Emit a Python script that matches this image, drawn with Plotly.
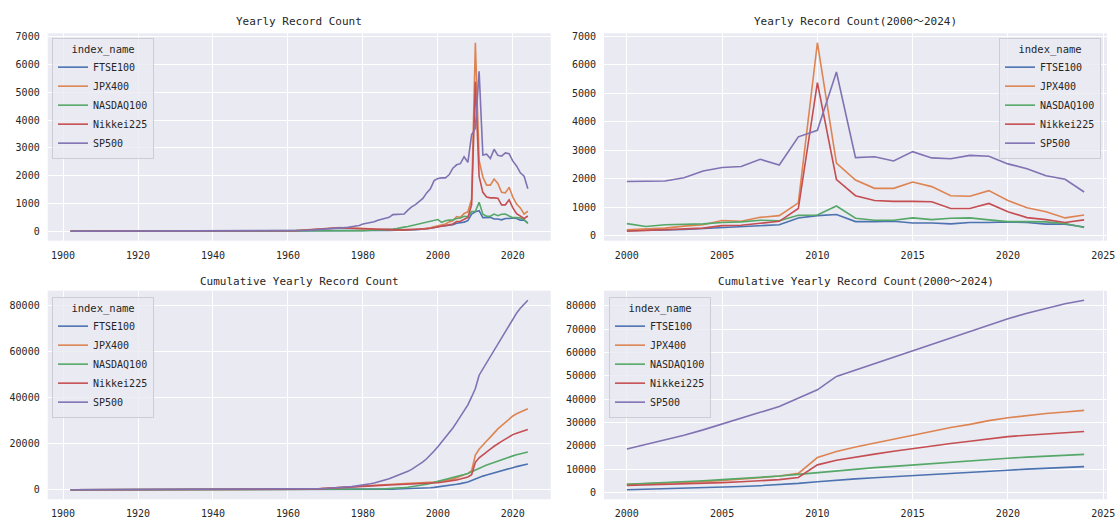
import numpy as np
import plotly.graph_objects as go

# ---------------- data ----------------
years = list(range(1902, 2025))
index_names = ["FTSE100", "JPX400", "NASDAQ100", "Nikkei225", "SP500"]

ftse100 = [
    0, 0, 0, 0, 0, 0, 0, 0,
    0, 0, 0, 0, 0, 0, 0, 0, 0, 0,
    0, 0, 0, 0, 0, 0, 0, 0, 0, 0,
    0, 0, 0, 0, 0, 0, 0, 0, 0, 0,
    0, 0, 0, 0, 0, 0, 0, 0, 0, 0,
    0, 0, 0, 0, 0, 0, 0, 0, 0, 0,
    1, 1, 2, 2, 3, 3, 4, 4, 5, 5,
    6, 6, 7, 7, 8, 8, 9, 9, 10, 10,
    15, 16, 18, 20, 22, 24, 26, 28, 30, 33,
    35, 40, 45, 50, 60, 70, 80, 95, 110, 140,
    180, 200, 200, 210, 240, 290, 300, 330, 380, 620,
    700, 740, 490, 490, 500, 440, 440, 410, 460, 460,
    480, 460, 400, 400, 300,
]
jpx400 = [
    0, 0, 0, 0, 0, 0, 0, 0,
    0, 0, 0, 0, 0, 0, 0, 0, 0, 0,
    0, 0, 0, 0, 0, 0, 0, 0, 0, 0,
    0, 0, 0, 0, 0, 0, 0, 0, 0, 0,
    0, 0, 0, 0, 0, 0, 0, 0, 0, 0,
    0, 0, 0, 0, 0, 0, 0, 0, 0, 0,
    10, 15, 22, 32, 42, 58, 75, 90, 100, 110,
    120, 130, 138, 142, 135, 128, 125, 120, 115, 110,
    105, 95, 85, 75, 65, 60, 55, 55, 55, 55,
    55, 55, 60, 62, 68, 72, 85, 100, 125, 160,
    200, 230, 260, 330, 380, 530, 500, 640, 700, 1150,
    6780, 2550, 1950, 1660, 1660, 1880, 1720, 1400, 1380, 1580,
    1230, 980, 840, 620, 720,
]
nasdaq100 = [
    0, 0, 0, 0, 0, 0, 0, 0,
    0, 0, 0, 0, 0, 0, 0, 0, 0, 0,
    0, 0, 0, 0, 0, 0, 0, 0, 0, 0,
    0, 0, 0, 0, 0, 0, 0, 0, 0, 0,
    0, 0, 0, 0, 0, 0, 0, 0, 0, 0,
    0, 0, 0, 0, 0, 0, 0, 0, 0, 0,
    1, 1, 2, 2, 3, 3, 4, 5, 6, 7,
    8, 9, 10, 11, 12, 13, 14, 15, 16, 18,
    25, 28, 32, 36, 42, 48, 56, 65, 78, 95,
    130, 150, 170, 200, 230, 270, 300, 330, 360, 400,
    420, 320, 380, 400, 410, 460, 480, 540, 520, 710,
    720, 1040, 610, 540, 540, 620, 560, 610, 620, 550,
    490, 490, 480, 420, 280,
]
nikkei225 = [
    0, 0, 0, 0, 0, 0, 0, 0,
    0, 0, 0, 0, 0, 0, 0, 0, 0, 0,
    0, 0, 0, 0, 0, 0, 0, 0, 0, 0,
    0, 0, 0, 0, 0, 0, 0, 0, 0, 0,
    0, 0, 0, 0, 0, 0, 0, 0, 0, 0,
    0, 0, 0, 0, 0, 0, 0, 0, 0, 0,
    10, 15, 20, 30, 40, 55, 70, 85, 95, 105,
    110, 115, 120, 120, 115, 110, 105, 100, 95, 90,
    85, 78, 70, 62, 56, 52, 50, 50, 50, 50,
    50, 50, 55, 55, 60, 65, 75, 90, 110, 130,
    150, 180, 190, 230, 260, 350, 360, 430, 500, 950,
    5380, 1970, 1400, 1230, 1200, 1200, 1190, 950, 950, 1130,
    840, 630, 560, 460, 550,
]
sp500 = [
    1, 1, 1, 1, 1, 1, 1, 1,
    1, 1, 1, 1, 1, 1, 1, 2, 2, 2,
    2, 2, 2, 2, 2, 2, 2, 2, 3, 3,
    3, 3, 2, 2, 2, 2, 2, 3, 3, 3,
    3, 3, 2, 2, 2, 3, 3, 3, 3, 3,
    4, 4, 4, 5, 5, 6, 6, 7, 8, 9,
    15, 17, 20, 24, 28, 33, 40, 48, 57, 66,
    76, 86, 96, 106, 118, 130, 145, 160, 180, 205,
    260, 280, 310, 340, 400, 440, 480, 500, 600, 610,
    620, 620, 760, 880, 960, 1080, 1180, 1380, 1530, 1820,
    1900, 1920, 1920, 2030, 2270, 2390, 2430, 2680, 2480, 3470,
    3700, 5750, 2740, 2770, 2620, 2950, 2730, 2700, 2820, 2790,
    2520, 2350, 2100, 1980, 1530,
]

series = [ftse100, jpx400, nasdaq100, nikkei225, sp500]
colors = ["#4C72B0", "#DD8452", "#55A868", "#C44E52", "#8172B3"]

titles = [
    "Yearly Record Count",
    "Yearly Record Count(2000～2024)",
    "Cumulative Yearly Record Count",
    "Cumulative Yearly Record Count(2000～2024)",
]

# ---------------- figure ----------------
W, H = 1115, 519
FONT = "DejaVu Sans Mono, Noto Sans CJK JP, monospace"
TXT = "#262626"

yrs = np.array(years)
mask = yrs >= 2000

panels = []
yearly = [np.array(s, dtype=float) for s in series]
cumul = [np.cumsum(s) for s in yearly]
panels.append((yrs, yearly, "", "legend"))
panels.append((yrs[mask], [s[mask] for s in yearly], "2", "legend2"))
panels.append((yrs, cumul, "3", "legend3"))
panels.append((yrs[mask], [s[mask] for s in cumul], "4", "legend4"))

fig = go.Figure()
for x, ys, suf, leg in panels:
    for name, y, c in zip(index_names, ys, colors):
        fig.add_trace(go.Scatter(
            x=x, y=y, mode="lines", name=name,
            line=dict(color=c, width=1.6),
            xaxis="x" + suf, yaxis="y" + suf, legend=leg,
            showlegend=True,
        ))

def pad(lo, hi):
    s = hi - lo
    return [lo - 0.05 * s, hi + 0.05 * s]

xdomL = [47.7 / W, 550.7 / W]
xdomR = [604 / W, 1107 / W]
ydomT = [1 - 240.7 / H, 1 - 33.3 / H]
ydomB = [1 - 499.3 / H, 1 - 290.7 / H]

axis_common = dict(
    showgrid=True, gridcolor="white", gridwidth=1.2,
    zeroline=False, showline=False,
    ticks="outside", ticklen=5, tickcolor="rgba(0,0,0,0)",
    tickfont=dict(family=FONT, size=10, color=TXT),
    tickformat="d", ticklabeloverflow="allow", automargin=False,
)

layout = dict(
    width=W, height=H,
    margin=dict(l=0, r=0, t=0, b=0),
    paper_bgcolor="white", plot_bgcolor="#EAEAF2",
    font=dict(family=FONT, color=TXT),
)

specs = [
    ("", xdomL, ydomT, 20),
    ("2", xdomR, ydomT, 5),
    ("3", xdomL, ydomB, 20),
    ("4", xdomR, ydomB, 5),
]
ytick_steps = {"": 1000, "2": 1000, "3": 20000, "4": 10000}

for (x, ys, suf, leg), (s2, xd, yd, xstep) in zip(panels, specs):
    xlo, xhi = float(x.min()), float(x.max())
    ylo = float(min(v.min() for v in ys))
    yhi = float(max(v.max() for v in ys))
    xr = pad(xlo, xhi)
    yr = pad(ylo, yhi)
    layout["xaxis" + suf] = dict(axis_common, domain=xd, range=xr,
                                 anchor="y" + suf, tickmode="linear",
                                 tick0=1900, dtick=xstep)
    layout["yaxis" + suf] = dict(axis_common, domain=yd, range=yr,
                                 anchor="x" + suf, tickmode="linear",
                                 tick0=0, dtick=ytick_steps[suf])

leg_common = dict(
    bgcolor="rgba(234,234,242,0.8)", bordercolor="#CDCDD6", borderwidth=1,
    font=dict(family=FONT, size=10, color=TXT),
    title=dict(text="index_name", side="top center",
               font=dict(family=FONT, size=10.5, color=TXT)),
    itemwidth=30, yanchor="top", tracegroupgap=0,
)
layout["legend"] = dict(leg_common, x=52 / W, y=1 - 38 / H, xanchor="left")
layout["legend2"] = dict(leg_common, x=1101 / W, y=1 - 38 / H, xanchor="right")
layout["legend3"] = dict(leg_common, x=52 / W, y=1 - 297 / H, xanchor="left")
layout["legend4"] = dict(leg_common, x=609 / W, y=1 - 297 / H, xanchor="left")

ann = []
title_y = [1 - 21 / H, 1 - 21 / H, 1 - 281 / H, 1 - 281 / H]
title_x = [sum(xdomL) / 2, sum(xdomR) / 2, sum(xdomL) / 2, sum(xdomR) / 2]
for t, tx, ty in zip(titles, title_x, title_y):
    ann.append(dict(text=t, x=tx, y=ty, xref="paper", yref="paper",
                    xanchor="center", yanchor="middle", showarrow=False,
                    font=dict(family=FONT, size=11, color=TXT)))
layout["annotations"] = ann

fig.update_layout(**layout)
fig.write_html("out.html")
